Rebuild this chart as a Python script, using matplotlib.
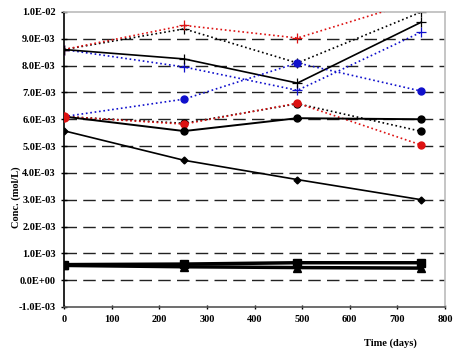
import matplotlib.pyplot as plt

days = [0, 252, 490, 750]

# upper group (+ markers)
black_solid_plus = [8.6e-3, 8.25e-3, 7.35e-3, 9.62e-3]
red_dot_plus = [8.6e-3, 9.5e-3, 9.03e-3, 10.45e-3]
black_dot_plus = [8.6e-3, 9.37e-3, 8.1e-3, 10.0e-3]
blue_dot_plus = [8.6e-3, 7.95e-3, 7.08e-3, 9.25e-3]

# middle group (circle markers)
blue_dot_circ = [6.1e-3, 6.75e-3, 8.1e-3, 7.05e-3]
red_dot_circ = [6.1e-3, 5.82e-3, 6.6e-3, 5.04e-3]
black_dot_circ = [6.1e-3, 5.85e-3, 6.58e-3, 5.55e-3]
black_solid_circ = [6.1e-3, 5.56e-3, 6.04e-3, 6.0e-3]

# diamond series
black_diamond = [5.57e-3, 4.47e-3, 3.75e-3, 3.0e-3]

# bottom group
squares = [0.58e-3, 0.6e-3, 0.65e-3, 0.65e-3]
triangles = [0.55e-3, 0.5e-3, 0.47e-3, 0.45e-3]

yticks = [i * 1e-3 for i in range(-1, 11)]
ylabels = ["-1.0E-03", "0.0E+00", "1.0E-03", "2.0E-03", "3.0E-03", "4.0E-03",
           "5.0E-03", "6.0E-03", "7.0E-03", "8.0E-03", "9.0E-03", "1.0E-02"]

RED = "#dd1111"
BLUE = "#1010cc"

fig = plt.figure(figsize=(4.68, 3.58), dpi=100)
ax = fig.add_axes([0.1368, 0.1425, 0.8142, 0.824])

for y in yticks[1:-1]:
    ax.axhline(y, color="#222222", lw=1.0, ls=(0, (9, 4.5)), zorder=1)

ax.plot(days, black_dot_plus, color="black", ls=":", lw=1.2, marker="+", ms=7, mew=0.9, zorder=2)
ax.plot(days, red_dot_plus, color=RED, ls=":", lw=1.2, marker="+", ms=7, mew=0.9, zorder=3)
ax.plot(days, blue_dot_plus, color=BLUE, ls=":", lw=1.2, marker="+", ms=7, mew=0.9, zorder=3)
ax.plot(days, black_solid_plus, color="black", ls="-", lw=1.2, marker="+", ms=7, mew=0.9, zorder=3)

ax.plot(days, black_dot_circ, color="black", ls=":", lw=1.2, marker="o", ms=5, zorder=2)
ax.plot(days, red_dot_circ, color=RED, ls=":", lw=1.2, marker="o", ms=5, zorder=3)
ax.plot(days, black_solid_circ, color="black", ls="-", lw=1.4, marker="o", ms=5, zorder=3)
ax.plot(days, blue_dot_circ, color=BLUE, ls=":", lw=1.2, marker="o", ms=5, zorder=4)
ax.plot(days[:1], red_dot_circ[:1], color=RED, marker="o", ms=6.5, ls="none", zorder=5)

ax.plot(days, black_diamond, color="black", ls="-", lw=1.2, marker="D", ms=3.5, zorder=3)

ax.plot(days, squares, color="black", ls="-", lw=2.5, marker="s", ms=6, zorder=3)
ax.plot(days, triangles, color="black", ls="-", lw=2.5, marker="^", ms=6, zorder=3)

ax.set_xlim(0, 800)
ax.set_ylim(-1e-3, 1e-2)
ax.set_xticks(range(0, 801, 100))
ax.set_xticklabels([str(v) for v in range(0, 801, 100)],
                   fontfamily="Liberation Serif", fontsize=7.5, fontweight="bold")
ax.set_yticks(yticks)
ax.set_yticklabels(ylabels, fontfamily="Liberation Serif", fontsize=7.5, fontweight="bold")
ax.tick_params(axis="both", length=3, width=1, direction="inout", pad=4)
ax.tick_params(axis="y", length=4)

for side in ["top", "right"]:
    ax.spines[side].set_color("#bbbbbb")
    ax.spines[side].set_linewidth(1.2)
ax.spines["left"].set_linewidth(1.2)
ax.spines["bottom"].set_color("#555555")
ax.spines["bottom"].set_linewidth(1.2)

fig.text(0.035, 0.45, "Conc. (mol/L)", rotation=90, ha="center", va="center",
         fontfamily="Liberation Serif", fontsize=7.5, fontweight="bold")
fig.text(0.835, 0.04, "Time (days)", ha="center", va="center",
         fontfamily="Liberation Serif", fontsize=7.5, fontweight="bold")

fig.savefig("out.png", dpi=100)
